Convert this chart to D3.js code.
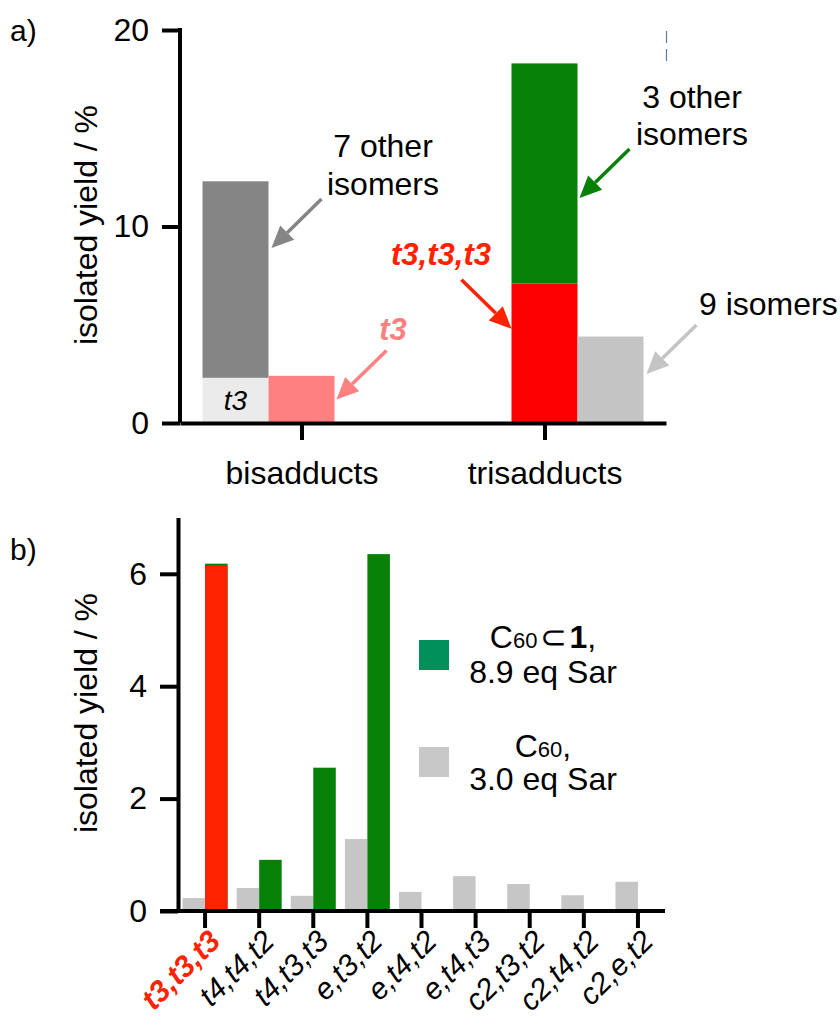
<!DOCTYPE html>
<html>
<head>
<meta charset="utf-8">
<script src="https://cdn.jsdelivr.net/npm/d3@7/dist/d3.min.js"></script>
<style>
  html, body { margin: 0; padding: 0; background: #fff; }
  svg { display: block; font-family: "Liberation Sans", Arial, Helvetica, sans-serif; }
</style>
</head>
<body>
<svg id="chart" width="840" height="1019"></svg>
<script>
// ---- Panel a: isolated yields of bis- and trisadducts ----
const aCategories = ["bisadducts", "trisadducts"];
const aStackBase = [2.3, 7.1];    // t3 (bis) and t3,t3,t3 (tris) isomer
const aStackRest = [10.0, 11.2];  // remaining isomers stacked on top
const aSingle = [2.4, 4.4];       // companion bar next to the stack
const aTicks = [0, 10, 20];

// ---- Panel b: trisadduct isomer distribution ----
const bIsomers = ["t3,t3,t3", "t4,t4,t2", "t4,t3,t3", "e,t3,t2", "e,t4,t2",
                  "e,t4,t3", "c2,t3,t2", "c2,t4,t2", "c2,e,t2"];
const bFree = [0.23, 0.41, 0.27, 1.28, 0.34, 0.62, 0.48, 0.28, 0.52];   // C60, 3.0 eq Sar
const bHost = [6.18, 0.91, 2.55, 6.35, null, null, null, null, null];   // C60⊂1, 8.9 eq Sar
const bHighlight = [6.15, null, null, null, null, null, null, null, null];
const bTicks = [0, 2, 4, 6];

const svg = d3.select("#chart");
const AXIS_W = 4;
const FONT = "Liberation Sans, Arial, sans-serif";

function drawAxisStyle(g) {
  g.selectAll("path.domain").attr("stroke", "#000").attr("stroke-width", AXIS_W).attr("stroke-linecap", "butt");
  g.selectAll(".tick line").attr("stroke", "#000").attr("stroke-width", AXIS_W);
}

function arrow(g, tip, dir, len, color) {
  const [ux, uy] = dir; const n = Math.hypot(ux, uy);
  const dx = ux / n, dy = uy / n;
  const headL = 22, headW = 10;
  const start = [tip[0] + dx * len, tip[1] + dy * len];
  const base = [tip[0] + dx * headL, tip[1] + dy * headL];
  g.append("line")
    .attr("x1", start[0]).attr("y1", start[1])
    .attr("x2", base[0]).attr("y2", base[1])
    .attr("stroke", color).attr("stroke-width", 3.5);
  const px = -dy, py = dx;
  g.append("polygon")
    .attr("points", [tip,
      [base[0] + px * headW, base[1] + py * headW],
      [base[0] - px * headW, base[1] - py * headW]].map(p => p.join(",")).join(" "))
    .attr("fill", color);
}

// ================= Panel a =================
{
  const g = svg.append("g");
  const y = d3.scaleLinear().domain([0, 20]).range([423, 30]);
  const x = d3.scalePoint().domain(aCategories).range([180, 666]).padding(0.5);
  const bw = 66;
  // bar slot relative to the category tick (in bar widths)
  const stackSlot = [-1.5, -0.5];
  const singleSlot = [-0.5, 0.5];
  const stackBaseColor = ["#ebebeb", "#ff0000"];
  const stackRestColor = ["#858585", "#068006"];
  const singleColor = ["#ff8080", "#c4c4c4"];

  aCategories.forEach((c, i) => {
    const sx = x(c) + stackSlot[i] * bw;
    g.append("rect").attr("x", sx).attr("width", bw)
      .attr("y", y(aStackBase[i])).attr("height", y(0) - y(aStackBase[i]))
      .attr("fill", stackBaseColor[i]);
    const top = aStackBase[i] + aStackRest[i];
    g.append("rect").attr("x", sx).attr("width", bw)
      .attr("y", y(top)).attr("height", y(aStackBase[i]) - y(top))
      .attr("fill", stackRestColor[i]);
    const ox = x(c) + singleSlot[i] * bw;
    g.append("rect").attr("x", ox).attr("width", bw)
      .attr("y", y(aSingle[i])).attr("height", y(0) - y(aSingle[i]))
      .attr("fill", singleColor[i]);
  });

  const ya = g.append("g").attr("transform", "translate(180,0)")
    .call(d3.axisLeft(y).tickValues(aTicks).tickSize(18).tickSizeOuter(0).tickPadding(13).tickFormat(d3.format("d")));
  ya.selectAll("text").attr("font-size", 32).attr("fill", "#000").attr("font-family", FONT);
  drawAxisStyle(ya);
  ya.select("path.domain").attr("d", `M0,${y(20) - 2}V${y(0)}`);

  const xa = g.append("g").attr("transform", `translate(0,${y(0)})`)
    .call(d3.axisBottom(x).tickSize(17).tickSizeOuter(0).tickPadding(21));
  xa.selectAll("text").attr("font-size", 32).attr("fill", "#000").attr("font-family", FONT);
  drawAxisStyle(xa);

  // in-bar label
  g.append("text").attr("x", x("bisadducts") - bw).attr("y", 410)
    .attr("text-anchor", "middle").attr("font-size", 28).attr("font-style", "italic").text("t3");

  // annotations with arrows
  const bis = x("bisadducts"), tri = x("trisadducts");
  arrow(g, [bis - 0.5 * bw + 3, y(8.9)], [1, -0.98], 70, "#858585");
  arrow(g, [bis + 0.5 * bw + 2, y(1.2)], [1, -0.98], 70, "#ff8080");
  arrow(g, [tri + 0.5 * bw + 2, y(11.45)], [1, -0.98], 70, "#068006");
  arrow(g, [tri - 0.5 * bw, y(4.8)], [-1, -0.98], 70, "#ff2200");
  arrow(g, [tri + 1.5 * bw + 3, y(2.5)], [1, -0.98], 70, "#c4c4c4");

  const lbl = (xx, yy, txt, opts = {}) => g.append("text").attr("x", xx).attr("y", yy)
    .attr("text-anchor", opts.anchor || "middle").attr("font-size", opts.size || 32)
    .attr("fill", opts.fill || "#000")
    .attr("font-style", opts.italic ? "italic" : null)
    .attr("font-weight", opts.bold ? "bold" : null).text(txt);
  lbl(383, 157, "7 other");
  lbl(383, 195, "isomers");
  lbl(393, 340, "t3", { italic: true, bold: true, fill: "#ff8080", size: 31 });
  lbl(441, 265, "t3,t3,t3", { italic: true, bold: true, fill: "#ff2200", size: 31 });
  lbl(692, 108, "3 other");
  lbl(692, 145, "isomers");
  lbl(699, 315, "9 isomers", { anchor: "start" });

  svg.append("text").attr("transform", "translate(97,225) rotate(-90)")
    .attr("text-anchor", "middle").attr("font-size", 32).text("isolated yield / %");
  svg.append("text").attr("x", 10).attr("y", 41).attr("font-size", 30).text("a)");

  // small dashed mark at the right end of the axis area
  g.append("line").attr("x1", 666.5).attr("x2", 666.5).attr("y1", 31).attr("y2", 63)
    .attr("stroke", "#5f7d9b").attr("stroke-width", 1.2).attr("stroke-dasharray", "12,6");
}

// ================= Panel b =================
{
  const g = svg.append("g");
  const y = d3.scaleLinear().domain([0, 7]).range([911, 517.6]);
  const x = d3.scaleBand().domain(bIsomers).range([178, 665]).padding(0);
  const c = d => x(d) + x.bandwidth() / 2;
  const bw = 22.5;

  g.selectAll("rect.free").data(bIsomers).join("rect").attr("class", "free")
    .attr("x", d => c(d) - bw).attr("width", bw)
    .attr("y", (d, i) => y(bFree[i])).attr("height", (d, i) => y(0) - y(bFree[i]))
    .attr("fill", "#c6c6c6");
  const hostData = bIsomers.map((d, i) => ({ d, v: bHost[i] })).filter(e => e.v != null);
  g.selectAll("rect.host").data(hostData).join("rect").attr("class", "host")
    .attr("x", e => c(e.d)).attr("width", bw)
    .attr("y", e => y(e.v)).attr("height", e => y(0) - y(e.v))
    .attr("fill", "#068006");
  const hiData = bIsomers.map((d, i) => ({ d, v: bHighlight[i] })).filter(e => e.v != null);
  g.selectAll("rect.hi").data(hiData).join("rect").attr("class", "hi")
    .attr("x", e => c(e.d)).attr("width", bw)
    .attr("y", e => y(e.v)).attr("height", e => y(0) - y(e.v))
    .attr("fill", "#ff2200");

  const yb = g.append("g").attr("transform", "translate(178,0)")
    .call(d3.axisLeft(y).tickValues(bTicks).tickSize(18).tickSizeOuter(0).tickPadding(13).tickFormat(d3.format("d")));
  yb.selectAll("text").attr("font-size", 32).attr("fill", "#000").attr("font-family", FONT);
  drawAxisStyle(yb);

  const xb = g.append("g").attr("transform", `translate(0,${y(0)})`)
    .call(d3.axisBottom(x).tickSize(17).tickSizeOuter(0));
  drawAxisStyle(xb);
  xb.select("path.domain").attr("d", `M160,0H665`);
  xb.selectAll(".tick text")
    .attr("font-size", 30).attr("font-style", "italic")
    .attr("font-family", FONT)
    .attr("text-anchor", "end").attr("dy", null).attr("y", null)
    .attr("transform", "translate(17,32) rotate(-45)")
    .attr("fill", (d, i) => i === 0 ? "#ff2200" : "#000")
    .attr("font-weight", (d, i) => i === 0 ? "bold" : null);

  // legend
  const leg = g.append("g");
  leg.append("rect").attr("x", 419).attr("y", 640).attr("width", 30).attr("height", 30).attr("fill", "#00905a");
  leg.append("rect").attr("x", 419).attr("y", 747).attr("width", 30).attr("height", 30).attr("fill", "#c8c8c8");
  const t1 = leg.append("text").attr("x", 543).attr("y", 648).attr("text-anchor", "middle").attr("font-size", 32);
  t1.append("tspan").text("C");
  t1.append("tspan").attr("font-size", 22).text("60");
  t1.append("tspan").attr("font-family", "DejaVu Sans").attr("font-weight", 300).attr("dx", 3).text("⊂");
  t1.append("tspan").attr("font-weight", "bold").attr("dx", 2).text("1");
  t1.append("tspan").text(",");
  leg.append("text").attr("x", 543).attr("y", 683).attr("text-anchor", "middle").attr("font-size", 32).text("8.9 eq Sar");
  const t2 = leg.append("text").attr("x", 543).attr("y", 757).attr("text-anchor", "middle").attr("font-size", 32);
  t2.append("tspan").text("C");
  t2.append("tspan").attr("font-size", 22).text("60");
  t2.append("tspan").text(",");
  leg.append("text").attr("x", 543).attr("y", 790).attr("text-anchor", "middle").attr("font-size", 32).text("3.0 eq Sar");

  svg.append("text").attr("transform", "translate(97,713) rotate(-90)")
    .attr("text-anchor", "middle").attr("font-size", 32).text("isolated yield / %");
  svg.append("text").attr("x", 10).attr("y", 560).attr("font-size", 30).text("b)");
}
</script>
</body>
</html>
